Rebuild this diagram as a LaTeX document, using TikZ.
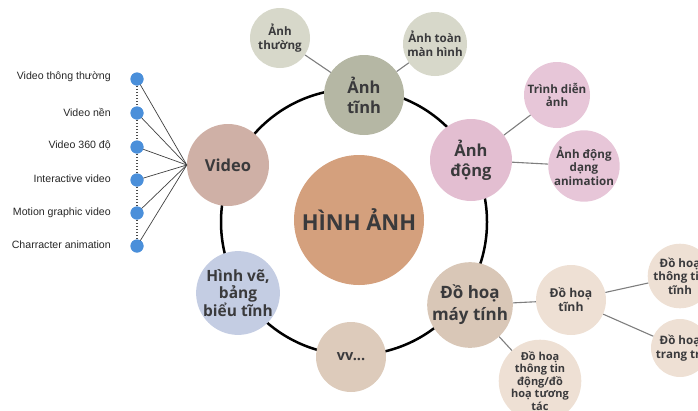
\documentclass[tikz,border=0pt]{standalone}
\usepackage{fontspec}
\setmainfont{Open Sans}
\newfontfamily\labfont{Liberation Sans}
\definecolor{txt}{HTML}{3A3A3C}
\definecolor{cstatic}{HTML}{B5B7A4}
\definecolor{cstaticl}{HTML}{D7D8CA}
\definecolor{cdyn}{HTML}{E3BED1}
\definecolor{cdynl}{HTML}{E7C6D8}
\definecolor{cvideo}{HTML}{CFB0A6}
\definecolor{cdraw}{HTML}{C4CDE3}
\definecolor{cvv}{HTML}{DDCBBB}
\definecolor{cgfx}{HTML}{D9C7B7}
\definecolor{cgfxl}{HTML}{EEE0D4}
\definecolor{ccenter}{HTML}{D4A07D}
\definecolor{cdot}{HTML}{4A8FDA}
\definecolor{cconn}{HTML}{7E7E7E}
\begin{document}
\begin{tikzpicture}[x=1pt,y=-1pt,
  bub/.style={circle,inner sep=0pt,align=center,text=txt,font=\bfseries},
  big/.style={bub,font=\bfseries\fontsize{16.5}{20}\selectfont},
  small/.style={bub,font=\bfseries\fontsize{11.6}{13.5}\selectfont},
  conn/.style={draw=cconn,line width=1.1pt},
  ring/.style={draw=black,line width=2.5pt},
  dotnode/.style={circle,fill=cdot,inner sep=0pt,minimum size=13pt},
  lbl/.style={anchor=east,inner sep=0pt,text=black!85,font=\labfont\fontsize{10.6}{12}\selectfont},
  vline/.style={draw=black!75,line width=0.7pt},
  dline/.style={draw=black!70,line width=1.1pt,dotted}]
\path[use as bounding box] (0,0) rectangle (698,410);
% ring
\coordinate (ringc) at (354,222);
\draw[ring] (ringc) circle (133);
% center
\node[bub,fill=ccenter,minimum size=130pt,font=\bfseries\fontsize{22}{26}\selectfont] (center) at (359,220) {HÌNH ẢNH};
% main bubbles
\node[big,fill=cstatic,minimum size=80pt] (tinh) at (364,95) {Ảnh\\tĩnh};
\node[big,fill=cdyn,minimum size=82pt] (dong) at (471,160) {Ảnh\\động};
\node[big,fill=cvideo,minimum size=82pt] (video) at (228,165) {Video};
\node[bub,fill=cdraw,minimum size=82pt,font=\bfseries\fontsize{15.5}{17.5}\selectfont] (hinhve) at (238,293) {Hình vẽ,\\bảng\\biểu tĩnh};
\node[bub,fill=cvv,minimum size=70pt,font=\bfseries\fontsize{14.5}{17}\selectfont] (vv) at (351,357) {vv...};
\node[big,fill=cgfx,minimum size=84pt,font=\bfseries\fontsize{17}{22}\selectfont] (gfx) at (470,305) {Đồ hoạ\\máy tính};
% sub bubbles
\node[small,fill=cstaticl,minimum size=60pt] (thuong) at (280,38) {Ảnh\\thường};
\node[small,fill=cstaticl,minimum size=64pt] (toan) at (435,44) {Ảnh toàn\\màn hình};
\node[small,fill=cdynl,minimum size=66pt] (trinh) at (557,95) {Trình diễn\\ảnh};
\node[small,fill=cdynl,minimum size=68pt] (anim) at (584,166) {Ảnh động\\dạng\\animation};
\node[small,fill=cgfxl,minimum size=70pt,font=\bfseries\fontsize{12.2}{14}\selectfont] (gtinh) at (571,300) {Đồ hoạ\\tĩnh};
\node[small,fill=cgfxl,minimum size=60pt] (ttinh) at (680,276) {Đồ hoạ\\thông tin\\tĩnh};
\node[small,fill=cgfxl,minimum size=58pt] (trangtri) at (680,348) {Đồ hoạ\\trang trí};
\node[small,fill=cgfxl,minimum size=76pt,font=\bfseries\fontsize{11}{12.5}\selectfont] (gdong) at (540,381) {Đồ hoạ\\thông tin\\động/đồ\\hoạ tương\\tác};
% connectors
\draw[conn] (tinh) -- (thuong);
\draw[conn] (tinh) -- (toan);
\draw[conn] (dong) -- (trinh);
\draw[conn] (dong) -- (anim);
\draw[conn] (gfx) -- (gtinh);
\draw[conn] (gfx) -- (gdong);
\draw[conn] (gtinh) -- (ttinh);
\draw[conn] (gtinh) -- (trangtri);
% video list
\node[dotnode] (d1) at (137,79) {};
\node[dotnode] (d2) at (137,113) {};
\node[dotnode] (d3) at (137,147) {};
\node[dotnode] (d4) at (137,180) {};
\node[dotnode] (d5) at (137,213) {};
\node[dotnode] (d6) at (137,246) {};
\draw[dline] (d1) -- (d2);
\draw[dline] (d2) -- (d3);
\draw[dline] (d3) -- (d4);
\draw[dline] (d4) -- (d5);
\draw[dline] (d5) -- (d6);
\foreach \d in {d1,d2,d3,d4,d5,d6} \draw[vline] (\d.center) -- (video.west);
\foreach \d in {d1,d2,d3,d4,d5,d6} \node[dotnode] at (\d) {};
\node[lbl] (l1) at (111,77) {Video thông thường};
\node[lbl] (l2) at (111,112) {Video nền};
\node[lbl] (l3) at (111,145) {Video 360 độ};
\node[lbl] (l4) at (111,179) {Interactive video};
\node[lbl] (l5) at (111,213) {Motion graphic video};
\node[lbl] (l6) at (111,245) {Charracter animation};
\end{tikzpicture}
\end{document}
